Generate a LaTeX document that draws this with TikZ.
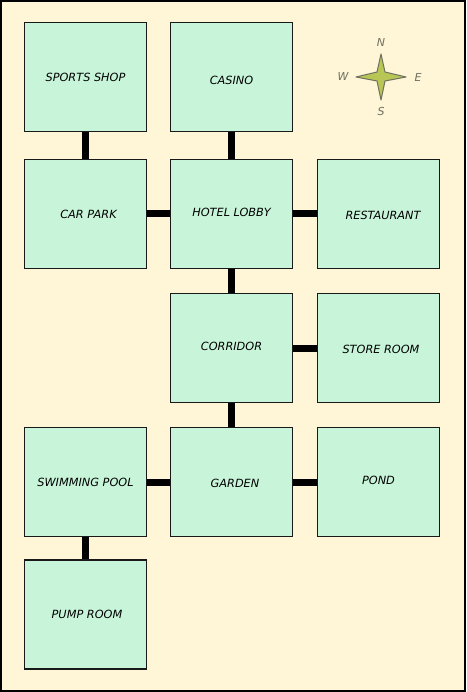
\documentclass[tikz,border=0pt]{standalone}
\usepackage{fontspec}
\setmainfont{DejaVu Sans}
\definecolor{paper}{HTML}{FFF5D7}
\definecolor{roomfill}{HTML}{C8F5DA}
\definecolor{starfill}{HTML}{B7C655}
\definecolor{stargray}{HTML}{707060}
\newcommand{\shifted}[2]{\raisebox{#1}[\height][\depth]{#2}}
\begin{document}
\begin{tikzpicture}[x=1pt, y=-1pt,
  room/.style = {draw = black!90, line width = 1.7pt, fill = roomfill,
                 minimum width = 122pt, minimum height = 109pt, inner sep = 0pt,
                 font = \itshape\fontsize{11.3}{13}\selectfont},
  path/.style = {line width = 7pt},
  wind/.style = {text = stargray, font = \itshape\fontsize{11}{13}\selectfont}]
% paper
\draw[fill = paper, line width = 2pt] (1,1) rectangle (465,691);
\useasboundingbox (0,0) rectangle (466,692);
% rooms
\node[room] (shop)   at (85.5,77)    {SPORTS SHOP};
\node[room] (casino) at (231.5,77)   {\shifted{-3pt}{CASINO}};
\node[room] (park)   at (85.5,214)   {\hspace{6pt}CAR PARK};
\node[room] (lobby)  at (231.5,214)  {\shifted{2pt}{HOTEL LOBBY}};
\node[room] (rest)   at (378.5,214)  {\hspace{9pt}\shifted{-1pt}{RESTAURANT}};
\node[room] (corr)   at (231.5,348)  {\shifted{2pt}{CORRIDOR}};
\node[room] (store)  at (378.5,348)  {\hspace{5pt}\shifted{-1pt}{STORE ROOM}};
\node[room] (pool)   at (85.5,482)   {SWIMMING POOL};
\node[room] (garden) at (231.5,482)  {\hspace{7pt}\shifted{-1pt}{GARDEN}};
\node[room] (pond)   at (378.5,482)  {\shifted{2pt}{POND}};
\node[room] (pump)   at (85.5,614.5) {\hspace{3pt}PUMP ROOM};
% passages
\draw[path] (shop)   -- (park);
\draw[path] (casino) -- (lobby);
\draw[path] (park)   -- (lobby);
\draw[path] (lobby)  -- (rest);
\draw[path] (lobby)  -- (corr);
\draw[path] (corr)   -- (store);
\draw[path] (corr)   -- (garden);
\draw[path] (pool)   -- (garden);
\draw[path] (garden) -- (pond);
\draw[path] (pool)   -- (pump);
% compass
\coordinate (rose) at (381,77);
\draw[fill = starfill, draw = stargray, line width = 1pt, line join = round]
  (rose) ++(0,-23) -- ++(4,18) -- ++(21,5) -- ++(-21,4) -- ++(-4,19)
  -- ++(-4,-19) -- ++(-21,-4) -- ++(21,-5) -- cycle;
\node[wind] (n) at (381,42)  {N};
\node[wind] (s) at (381,111) {S};
\node[wind] (w) at (343,76)  {W};
\node[wind] (e) at (418,77)  {E};
\end{tikzpicture}
\end{document}
